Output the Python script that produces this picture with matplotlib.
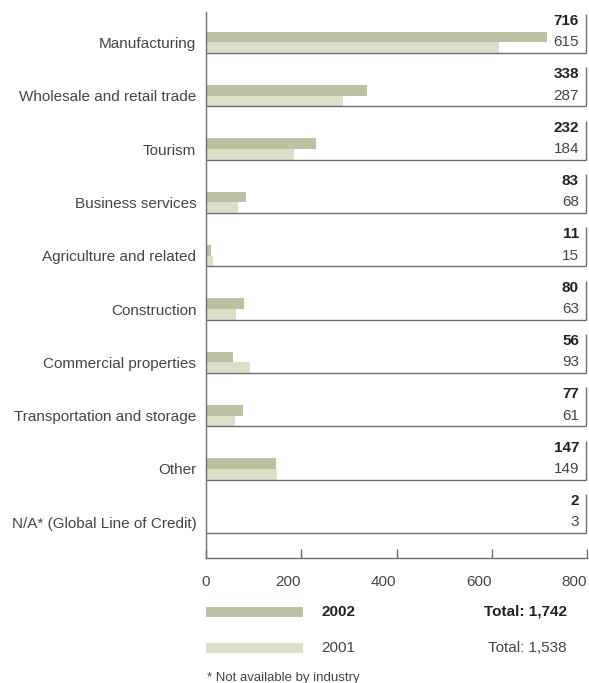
import matplotlib.pyplot as plt
from matplotlib.patches import Rectangle

plt.rcParams['font.family'] = ['Liberation Sans', 'DejaVu Sans']

industries = ['Manufacturing', 'Wholesale and retail trade', 'Tourism',
              'Business services', 'Agriculture and related', 'Construction',
              'Commercial properties', 'Transportation and storage', 'Other',
              'N/A* (Global Line of Credit)']
values_2002 = [716, 338, 232, 83, 11, 80, 56, 77, 147, 2]
values_2001 = [615, 287, 184, 68, 15, 63, 93, 61, 149, 3]
total_2002 = 'Total: 1,742'
total_2001 = 'Total: 1,538'
x_ticks = [0, 200, 400, 600, 800]
footnote = '* Not available by industry'

c2002 = '#bdc0a3'
c2001 = '#dbe0c9'
line_c = '#6e6e6e'
text_c = '#444444'
bold_c = '#222222'
fs = 11

W, H = 589, 683
fig = plt.figure(figsize=(W / 100, H / 100), dpi=100)

# axes box in pixels (left, top, right, bottom)
L, T, R, B = 206, 12, 587, 558
ax = fig.add_axes([L / W, 1 - B / H, (R - L) / W, (B - T) / H])

n = len(industries)
row_px = 53.3
ax.set_xlim(0, 800)
ax.set_ylim(n + 25 / row_px, 1 - 41 / row_px)

bar_h = 0.2
for i in range(n):
    base = i + 1
    ax.barh(base - 0.3, values_2002[i], height=bar_h, color=c2002, linewidth=0)
    ax.barh(base - 0.1, values_2001[i], height=bar_h, color=c2001, linewidth=0)
    # bracket: bottom rule and short right edge
    ax.plot([0, 798], [base, base], color=line_c, lw=1.0, clip_on=False,
            solid_capstyle='butt')
    ax.plot([798, 798], [base - 0.73, base], color=line_c, lw=1.0,
            clip_on=False, solid_capstyle='butt')
    ax.text(783, base - 0.6, str(values_2002[i]), ha='right', va='center',
            fontsize=fs, fontweight='bold', color=bold_c)
    ax.text(783, base - 0.2, str(values_2001[i]), ha='right', va='center',
            fontsize=fs, color=text_c)

ax.set_yticks([i + 1 - 0.2 for i in range(n)])
ax.set_yticklabels(industries, fontsize=fs, color=text_c)
ax.tick_params(axis='y', length=0, pad=7)

ax.set_xticks(x_ticks)
ax.set_xticklabels([str(t) for t in x_ticks], fontsize=fs, color=text_c)
for lbl, t in zip(ax.get_xticklabels(), x_ticks):
    lbl.set_ha('center' if t == 0 else 'right')
ax.tick_params(axis='x', direction='in', length=6.5, width=1.0,
               color=line_c, pad=12)

for side in ['top', 'right']:
    ax.spines[side].set_visible(False)
for side in ['left', 'bottom']:
    ax.spines[side].set_color(line_c)
    ax.spines[side].set_linewidth(1.0)


def px(x, y):
    return x / W, 1 - y / H


# legend swatches and totals
for y, col in [(612, c2002), (648, c2001)]:
    fig.patches.append(Rectangle(px(206, y + 5), 97 / W, 10 / H,
                                 transform=fig.transFigure, color=col, lw=0))

fig.text(*px(321, 612), '2002', fontsize=fs, fontweight='bold',
         color=bold_c, va='center')
fig.text(*px(321, 648), '2001', fontsize=fs, color=text_c, va='center')
fig.text(*px(567, 612), total_2002, fontsize=fs, fontweight='bold',
         color=bold_c, va='center', ha='right')
fig.text(*px(567, 648), total_2001, fontsize=fs, color=text_c,
         va='center', ha='right')
fig.text(*px(207, 678), footnote, fontsize=9.5, color=text_c, va='center')

fig.savefig('out.png', dpi=100)
